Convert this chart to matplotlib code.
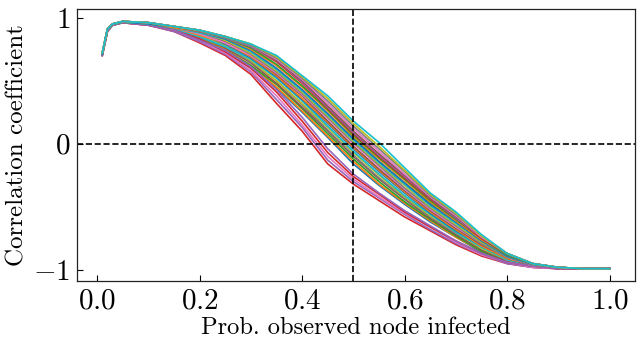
import matplotlib
matplotlib.use("Agg")
import matplotlib.pyplot as plt
import numpy as np

plt.rcParams["font.family"] = "serif"
plt.rcParams["font.serif"] = ["cmr10"]
plt.rcParams["mathtext.fontset"] = "cm"
plt.rcParams["axes.formatter.use_mathtext"] = True
plt.rcParams["axes.unicode_minus"] = True

# probability that the observed node is infected
prob = [0.01, 0.02, 0.03, 0.05, 0.10, 0.15, 0.20, 0.25, 0.30, 0.35, 0.40, 0.45,
        0.50, 0.55, 0.60, 0.65, 0.70, 0.75, 0.80, 0.85, 0.90, 0.95, 1.00]

# correlation coefficient, one row per simulated network
corr_runs = [
    [0.71, 0.90, 0.945, 0.965, 0.95, 0.91, 0.82, 0.73, 0.60, 0.44, 0.25, 0.05, -0.16, -0.33, -0.48, -0.62, -0.74, -0.86, -0.94, -0.975, -0.99, -0.99, -0.99],
    [0.71, 0.90, 0.945, 0.965, 0.95, 0.91, 0.84, 0.75, 0.62, 0.45, 0.26, 0.06, -0.14, -0.32, -0.47, -0.61, -0.74, -0.85, -0.93, -0.97, -0.99, -0.99, -0.99],
    [0.71, 0.90, 0.945, 0.965, 0.95, 0.91, 0.83, 0.74, 0.62, 0.47, 0.28, 0.08, -0.12, -0.30, -0.46, -0.60, -0.73, -0.85, -0.93, -0.97, -0.99, -0.99, -0.99],
    [0.70, 0.89, 0.94, 0.96, 0.94, 0.89, 0.80, 0.70, 0.55, 0.32, 0.10, -0.16, -0.32, -0.45, -0.58, -0.69, -0.80, -0.89, -0.95, -0.98, -0.99, -0.99, -0.99],
    [0.70, 0.89, 0.94, 0.96, 0.94, 0.89, 0.81, 0.71, 0.57, 0.35, 0.13, -0.13, -0.30, -0.43, -0.56, -0.68, -0.79, -0.88, -0.95, -0.98, -0.99, -0.99, -0.99],
    [0.71, 0.90, 0.945, 0.965, 0.95, 0.91, 0.85, 0.76, 0.64, 0.48, 0.29, 0.10, -0.10, -0.28, -0.44, -0.59, -0.72, -0.84, -0.93, -0.97, -0.985, -0.99, -0.99],
    [0.70, 0.89, 0.94, 0.96, 0.94, 0.90, 0.82, 0.72, 0.58, 0.38, 0.15, -0.10, -0.28, -0.42, -0.55, -0.66, -0.78, -0.88, -0.94, -0.98, -0.99, -0.99, -0.99],
    [0.71, 0.90, 0.945, 0.965, 0.95, 0.91, 0.84, 0.77, 0.65, 0.50, 0.31, 0.11, -0.09, -0.27, -0.43, -0.58, -0.71, -0.83, -0.92, -0.97, -0.985, -0.99, -0.99],
    [0.71, 0.90, 0.945, 0.965, 0.95, 0.92, 0.86, 0.78, 0.66, 0.50, 0.32, 0.13, -0.07, -0.25, -0.42, -0.57, -0.70, -0.83, -0.92, -0.97, -0.985, -0.99, -0.99],
    [0.71, 0.90, 0.945, 0.965, 0.95, 0.91, 0.85, 0.77, 0.67, 0.52, 0.34, 0.14, -0.06, -0.24, -0.41, -0.56, -0.70, -0.82, -0.92, -0.965, -0.985, -0.99, -0.99],
    [0.71, 0.90, 0.945, 0.965, 0.95, 0.92, 0.87, 0.79, 0.68, 0.53, 0.35, 0.16, -0.04, -0.22, -0.39, -0.55, -0.69, -0.81, -0.91, -0.965, -0.985, -0.99, -0.99],
    [0.71, 0.90, 0.945, 0.965, 0.95, 0.92, 0.86, 0.80, 0.69, 0.54, 0.36, 0.17, -0.03, -0.21, -0.38, -0.54, -0.68, -0.81, -0.91, -0.96, -0.985, -0.99, -0.99],
    [0.72, 0.91, 0.95, 0.97, 0.96, 0.93, 0.90, 0.85, 0.79, 0.68, 0.50, 0.29, 0.05, -0.14, -0.31, -0.47, -0.61, -0.76, -0.88, -0.95, -0.98, -0.99, -0.99],
    [0.70, 0.89, 0.94, 0.96, 0.94, 0.90, 0.83, 0.73, 0.60, 0.41, 0.18, -0.07, -0.26, -0.40, -0.54, -0.66, -0.77, -0.87, -0.94, -0.97, -0.99, -0.99, -0.99],
    [0.70, 0.89, 0.94, 0.96, 0.94, 0.90, 0.82, 0.74, 0.61, 0.43, 0.21, -0.04, -0.24, -0.39, -0.53, -0.65, -0.77, -0.87, -0.94, -0.97, -0.99, -0.99, -0.99],
    [0.71, 0.90, 0.945, 0.965, 0.95, 0.92, 0.88, 0.81, 0.70, 0.55, 0.38, 0.18, -0.02, -0.20, -0.37, -0.53, -0.67, -0.80, -0.90, -0.96, -0.98, -0.99, -0.99],
    [0.71, 0.90, 0.945, 0.965, 0.95, 0.92, 0.87, 0.80, 0.70, 0.56, 0.39, 0.20, 0.00, -0.18, -0.36, -0.52, -0.66, -0.79, -0.90, -0.96, -0.98, -0.99, -0.99],
    [0.71, 0.90, 0.945, 0.965, 0.95, 0.92, 0.88, 0.82, 0.71, 0.57, 0.40, 0.21, 0.01, -0.17, -0.35, -0.51, -0.65, -0.79, -0.90, -0.96, -0.98, -0.99, -0.99],
    [0.71, 0.90, 0.945, 0.965, 0.95, 0.92, 0.89, 0.82, 0.72, 0.58, 0.41, 0.22, 0.02, -0.16, -0.33, -0.50, -0.64, -0.78, -0.89, -0.955, -0.98, -0.99, -0.99],
    [0.71, 0.90, 0.945, 0.965, 0.95, 0.92, 0.88, 0.83, 0.73, 0.59, 0.42, 0.23, 0.03, -0.15, -0.32, -0.49, -0.63, -0.77, -0.89, -0.955, -0.98, -0.99, -0.99],
    [0.71, 0.90, 0.945, 0.965, 0.95, 0.92, 0.89, 0.83, 0.74, 0.60, 0.43, 0.24, 0.04, -0.14, -0.31, -0.48, -0.62, -0.77, -0.89, -0.955, -0.98, -0.99, -0.99],
    [0.72, 0.91, 0.95, 0.97, 0.96, 0.92, 0.89, 0.84, 0.75, 0.62, 0.45, 0.26, 0.06, -0.12, -0.29, -0.46, -0.61, -0.76, -0.88, -0.95, -0.98, -0.99, -0.99],
    [0.72, 0.91, 0.95, 0.97, 0.96, 0.93, 0.90, 0.84, 0.76, 0.63, 0.46, 0.27, 0.07, -0.11, -0.28, -0.45, -0.60, -0.75, -0.88, -0.95, -0.98, -0.99, -0.99],
    [0.72, 0.91, 0.95, 0.97, 0.96, 0.93, 0.89, 0.85, 0.77, 0.65, 0.48, 0.28, 0.08, -0.10, -0.27, -0.44, -0.59, -0.75, -0.87, -0.95, -0.98, -0.99, -0.99],
    [0.72, 0.91, 0.95, 0.97, 0.96, 0.93, 0.90, 0.84, 0.77, 0.66, 0.49, 0.29, 0.09, -0.09, -0.26, -0.43, -0.59, -0.74, -0.87, -0.95, -0.98, -0.99, -0.99],
    [0.72, 0.91, 0.95, 0.97, 0.96, 0.93, 0.90, 0.85, 0.78, 0.66, 0.50, 0.30, 0.10, -0.08, -0.25, -0.43, -0.58, -0.74, -0.87, -0.95, -0.98, -0.99, -0.99],
    [0.72, 0.91, 0.95, 0.97, 0.96, 0.93, 0.90, 0.85, 0.78, 0.67, 0.51, 0.32, 0.12, -0.06, -0.24, -0.42, -0.57, -0.74, -0.87, -0.95, -0.98, -0.99, -0.99],
    [0.72, 0.91, 0.95, 0.97, 0.96, 0.93, 0.89, 0.84, 0.78, 0.68, 0.52, 0.34, 0.14, -0.04, -0.22, -0.41, -0.56, -0.73, -0.87, -0.95, -0.98, -0.99, -0.99],
    [0.72, 0.91, 0.95, 0.97, 0.96, 0.93, 0.90, 0.85, 0.79, 0.69, 0.53, 0.36, 0.16, -0.02, -0.21, -0.40, -0.55, -0.73, -0.87, -0.95, -0.98, -0.99, -0.99],
    [0.72, 0.91, 0.95, 0.97, 0.96, 0.93, 0.90, 0.85, 0.79, 0.70, 0.54, 0.38, 0.18, 0.01, -0.19, -0.39, -0.54, -0.72, -0.87, -0.95, -0.98, -0.99, -0.99],
]

threshold_x = 0.5
threshold_y = 0.0

fig = plt.figure(figsize=(6.41, 3.48), dpi=100)
ax = fig.add_axes([0.120, 0.1925, 0.8706, 0.7815])

for run in corr_runs:
    ax.plot(prob, run, lw=1.2)

ax.axhline(threshold_y, color="black", ls="--", lw=1.2)
ax.axvline(threshold_x, color="black", ls="--", lw=1.2)

ax.set_xticks([0.0, 0.2, 0.4, 0.6, 0.8, 1.0])
ax.set_yticks([-1, 0, 1])
ax.tick_params(direction="in", length=4, width=0.8, labelsize=21, pad=5)
for s in ax.spines.values():
    s.set_linewidth(0.9)
    s.set_color("#222222")

ax.set_xlabel("Prob. observed node infected", fontsize=17.6, labelpad=1.5)
ax.set_ylabel("Correlation coefficient", fontsize=18, labelpad=3)

fig.savefig("out.png", dpi=100)
